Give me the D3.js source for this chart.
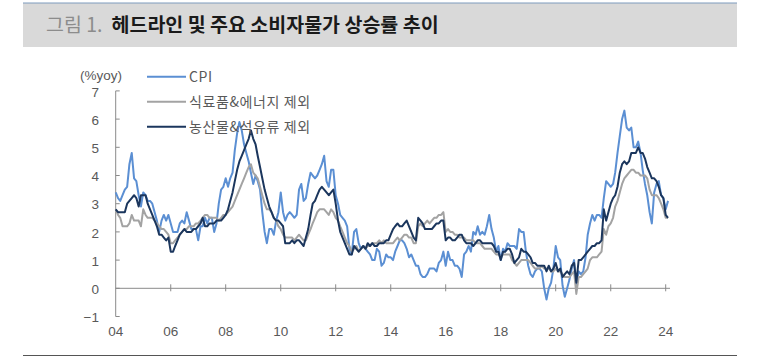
<!DOCTYPE html>
<html>
<head>
<meta charset="utf-8">
<script src="https://cdn.jsdelivr.net/npm/d3@7.9.0/dist/d3.min.js"></script>
<style>
  body { margin: 0; background: #fff; }
  svg { display: block; font-family: "Noto Sans CJK KR", "Noto Sans", sans-serif; }
  .num { font-family: "Liberation Sans", Arial, sans-serif; }
</style>
</head>
<body>
<svg id="chart" width="773" height="359"></svg>
<script>
// monthly yoy %, Jan 2004 .. Feb 2024 (one row per year)
const cpi = [
  3.4,3.2,3.1,3.3,3.5,3.6,4.4,4.8,3.9,3.8,3.3,2.9,
  3.4,3.3,3.1,3.1,3.0,2.7,2.4,2.0,2.4,2.6,2.4,2.6,
  2.3,2.0,2.0,2.0,2.3,2.4,2.3,2.7,2.4,2.1,2.1,2.1,
  1.7,2.2,2.2,2.5,2.3,2.5,2.5,2.0,2.3,3.0,3.5,3.6,
  3.9,3.6,3.9,4.1,4.9,5.5,5.9,5.6,5.1,4.8,4.5,4.1,
  3.7,4.0,3.8,3.5,2.7,2.0,1.6,2.1,2.1,1.9,2.4,2.7,
  3.4,2.7,2.4,2.6,2.7,2.6,2.5,2.6,3.5,3.7,3.1,3.2,
  3.7,4.1,4.0,3.9,4.0,4.2,4.4,4.7,3.8,3.6,4.2,4.2,
  3.3,3.0,2.6,2.5,2.4,2.2,1.4,1.2,2.0,2.1,1.6,1.4,
  1.5,1.4,1.3,1.2,1.0,1.0,1.4,1.3,0.8,0.9,1.2,1.1,
  1.1,1.0,1.3,1.5,1.7,1.7,1.6,1.4,1.1,1.2,1.0,0.8,
  0.8,0.5,0.4,0.4,0.5,0.7,0.7,0.7,0.6,0.9,1.0,1.3,
  0.8,1.3,1.0,1.0,0.8,0.8,0.7,0.4,1.2,1.3,1.5,1.3,
  2.0,1.9,2.2,1.9,2.0,1.9,2.2,2.6,2.1,1.8,1.3,1.5,
  1.0,1.4,1.3,1.6,1.5,1.5,1.5,1.4,2.1,2.0,2.0,1.3,
  0.8,0.5,0.4,0.6,0.7,0.7,0.6,0.0,-0.4,0.0,0.2,0.7,
  1.5,1.1,1.0,0.1,-0.3,0.0,0.3,0.7,1.0,0.1,0.6,0.5,
  0.6,1.1,1.9,2.3,2.6,2.4,2.6,2.6,2.5,3.2,3.8,3.7,
  3.6,3.7,4.1,4.8,5.4,6.0,6.3,5.7,5.6,5.7,5.0,5.0,
  5.2,4.8,4.2,3.7,3.3,2.7,2.3,3.4,3.7,3.8,3.3,3.2,
  2.8,3.1
];

// ex food & energy
const exFoodEnergy = [
  2.8,2.6,2.5,2.2,2.2,2.2,2.3,2.6,2.4,2.4,2.4,2.2,
  2.8,2.6,2.5,2.5,2.5,2.4,2.3,2.2,2.1,2.1,2.0,1.9,
  1.6,1.6,1.7,1.8,1.9,2.0,2.1,2.1,2.2,2.2,2.2,2.3,
  2.3,2.4,2.5,2.6,2.6,2.5,2.5,2.5,2.5,2.4,2.5,2.6,
  2.6,2.7,2.8,2.9,3.1,3.3,3.5,3.7,3.9,4.1,4.3,4.4,
  4.1,4.0,3.9,3.6,3.3,3.0,2.8,2.8,2.7,2.5,2.4,2.2,
  2.1,1.9,1.8,1.8,1.8,1.8,1.7,1.8,1.9,1.8,1.7,1.7,
  1.9,2.1,2.3,2.5,2.7,2.8,2.8,2.8,2.7,2.6,2.8,2.7,
  2.5,2.4,2.2,2.0,1.8,1.6,1.5,1.3,1.4,1.5,1.3,1.4,
  1.5,1.4,1.5,1.5,1.6,1.6,1.6,1.7,1.6,1.7,1.6,1.6,
  1.6,1.6,1.7,1.8,1.7,1.8,1.9,1.9,1.8,1.8,1.6,1.6,
  2.2,2.3,2.2,2.3,2.4,2.3,2.4,2.5,2.5,2.6,2.6,2.7,
  2.0,2.1,2.0,2.0,1.9,1.9,1.8,1.8,1.8,1.7,1.7,1.7,
  1.7,1.6,1.6,1.6,1.5,1.4,1.4,1.4,1.4,1.3,1.2,1.2,
  1.1,1.2,1.2,1.2,1.2,1.0,0.9,0.8,0.9,1.0,1.0,1.0,
  1.0,0.9,0.8,0.7,0.7,0.7,0.8,0.7,0.7,0.7,0.6,0.6,
  0.7,0.6,0.6,0.5,0.4,0.4,0.4,0.5,0.6,-0.2,0.4,0.4,
  0.5,0.6,0.7,1.0,1.1,1.1,1.1,1.2,1.3,2.1,1.9,2.2,
  2.3,2.5,2.9,3.1,3.4,3.7,3.9,4.0,4.1,4.2,4.2,4.1,
  4.1,4.0,4.0,4.0,3.9,3.5,3.3,3.3,3.3,3.2,3.0,2.8,
  2.5,2.5
];

// ex agricultural products & oil
const exAgriOil = [
  2.8,2.7,2.7,2.7,2.7,3.0,3.1,3.2,3.3,3.2,2.9,3.3,
  3.3,3.3,3.0,2.8,2.6,2.4,2.2,1.9,1.9,1.8,1.7,1.8,
  1.3,1.3,1.5,1.7,1.9,2.0,2.1,2.0,2.0,2.0,2.1,2.1,
  2.2,2.3,2.5,2.2,2.2,2.3,2.3,2.3,2.4,2.4,2.4,2.5,
  2.6,2.8,3.1,3.4,3.8,4.2,4.5,4.7,4.9,5.1,5.3,5.6,
  5.3,5.1,4.7,4.3,3.9,3.5,3.2,2.9,2.7,2.5,2.4,2.4,
  2.3,2.2,1.6,1.6,1.6,1.7,1.6,1.7,1.7,1.6,1.5,1.8,
  2.1,2.6,3.0,3.1,3.3,3.5,3.6,3.5,3.4,3.3,3.4,3.5,
  3.0,2.4,2.0,1.8,1.6,1.4,1.2,1.2,1.5,1.4,1.3,1.4,
  1.5,1.4,1.6,1.5,1.6,1.5,1.5,1.6,1.6,1.6,1.7,1.7,
  1.9,2.1,2.2,2.3,2.2,2.2,2.3,2.4,2.2,2.0,1.8,1.7,
  2.5,2.4,2.3,2.1,2.1,2.1,2.1,2.2,2.3,2.3,2.4,2.4,
  1.7,1.8,1.8,1.7,1.7,1.8,1.9,1.9,1.7,1.6,1.6,1.6,
  1.5,1.6,1.7,1.7,1.6,1.6,1.6,1.6,1.6,1.5,1.3,1.3,
  1.0,1.3,1.3,1.4,1.4,1.2,0.9,1.0,1.1,1.4,1.3,1.3,
  1.2,1.1,0.9,0.9,0.8,0.8,0.8,0.8,0.6,0.8,0.6,0.7,
  0.9,0.6,0.7,0.4,0.5,0.6,0.5,0.8,0.9,0.2,1.0,1.0,
  1.1,1.2,1.3,1.4,1.5,1.5,1.6,1.6,1.7,2.8,2.4,2.7,
  3.0,3.2,3.3,3.6,4.1,4.4,4.5,4.4,4.5,4.8,4.8,4.8,
  5.0,4.8,4.8,4.6,4.3,4.1,3.9,3.9,3.8,3.6,3.3,3.2,
  2.6,2.5
];

const seriesNames = ['CPI', '식료품&에너지 제외', '농산물&석유류 제외'];
const seriesColors = ['#5b8fd3', '#a3a3a3', '#1b365d'];
const yTicks = [-1, 0, 1, 2, 3, 4, 5, 6, 7];
const xTickYears = [2004, 2006, 2008, 2010, 2012, 2014, 2016, 2018, 2020, 2022, 2024];
const xTickLabels = ['04', '06', '08', '10', '12', '14', '16', '18', '20', '22', '24'];

const svg = d3.select('#chart');

/*title band*/
svg.append('rect')
  .attr('x', 23).attr('y', 3).attr('width', 714).attr('height', 44)
  .attr('fill', '#d9d9d9');
svg.append('line')
  .attr('x1', 23).attr('x2', 737).attr('y1', 3).attr('y2', 3)
  .attr('stroke', '#7f9bbd').attr('stroke-width', 1.2);

const title = svg.append('text')
  .attr('x', 46).attr('y', 32)
  .attr('font-size', 19.5);
title.append('tspan').attr('fill', '#8c8c8c').text('그림 1.');
title.append('tspan').attr('dx', 9).attr('fill', '#1a1a1a').attr('font-weight', 700)
  .text('헤드라인 및 주요 소비자물가 상승률 추이');

svg.append('line')
  .attr('x1', 23).attr('x2', 737).attr('y1', 355.5).attr('y2', 355.5)
  .attr('stroke', '#555').attr('stroke-width', 1);

/*scales*/
const x = d3.scaleTime()
  .domain([new Date(2004, 0, 1), new Date(2024, 0, 1)])
  .range([115.7, 665.7]);
const y = d3.scaleLinear().domain([-1, 7]).range([316.5, 90.9]);

const axisColor = '#8a8a8a';
const labelColor = '#595959';

/*y axis*/
svg.append('line')
  .attr('x1', x.range()[0]).attr('x2', x.range()[0])
  .attr('y1', y(7)).attr('y2', y(-1))
  .attr('stroke', axisColor).attr('stroke-width', 1);
svg.selectAll('.ytick')
  .data(yTicks)
  .join('line')
  .attr('class', 'ytick')
  .attr('x1', x.range()[0]).attr('x2', x.range()[0] + 4)
  .attr('y1', d => y(d)).attr('y2', d => y(d))
  .attr('stroke', axisColor);
svg.selectAll('.ylab')
  .data(yTicks)
  .join('text')
  .attr('class', 'ylab num')
  .attr('x', 99).attr('y', d => y(d) + 1)
  .attr('dy', '0.35em')
  .attr('text-anchor', 'end')
  .attr('font-size', 13.5)
  .attr('fill', labelColor)
  .text(d => d < 0 ? '\u2212' + Math.abs(d) : d);

svg.append('text')
  .attr('class', 'num')
  .attr('x', 80).attr('y', 75).attr('dy', '0.35em')
  .attr('font-size', 13.5).attr('fill', labelColor)
  .text('(%yoy)');

/*x axis on zero line*/
svg.append('line')
  .attr('x1', x.range()[0]).attr('x2', 670)
  .attr('y1', y(0)).attr('y2', y(0))
  .attr('stroke', axisColor).attr('stroke-width', 1);
svg.selectAll('.xtick')
  .data(xTickYears.slice(1))
  .join('line')
  .attr('class', 'xtick')
  .attr('x1', d => x(new Date(d, 0, 1))).attr('x2', d => x(new Date(d, 0, 1)))
  .attr('y1', y(0) - 4).attr('y2', y(0) + 3)
  .attr('stroke', axisColor);
svg.selectAll('.xlab')
  .data(xTickYears)
  .join('text')
  .attr('class', 'xlab num')
  .attr('x', d => x(new Date(d, 0, 1)))
  .attr('y', 331).attr('dy', '0.35em')
  .attr('text-anchor', 'middle')
  .attr('font-size', 13.5)
  .attr('fill', labelColor)
  .text((d, i) => xTickLabels[i]);

/*lines*/
const line = d3.line()
  .x((d, i) => x(new Date(2004, i, 1)))
  .y(d => y(d));

[cpi, exFoodEnergy, exAgriOil].forEach((s, k) => {
  svg.append('path')
    .datum(s)
    .attr('d', line)
    .attr('fill', 'none')
    .attr('stroke', seriesColors[k])
    .attr('stroke-width', 2)
    .attr('stroke-linejoin', 'round');
});

/*legend*/
const legendY = [76.7, 101.7, 126.7];
const legend = svg.selectAll('.leg')
  .data(seriesNames)
  .join('g')
  .attr('class', 'leg')
  .attr('transform', (d, i) => `translate(147,${legendY[i]})`);
legend.append('line')
  .attr('x1', 0).attr('x2', 39)
  .attr('stroke', (d, i) => seriesColors[i])
  .attr('stroke-width', 2);
legend.append('text')
  .attr('x', 42).attr('dy', '0.35em')
  .attr('font-size', 14)
  .attr('letter-spacing', 0.6)
  .attr('fill', labelColor)
  .text(d => d);
</script>
</body>
</html>
